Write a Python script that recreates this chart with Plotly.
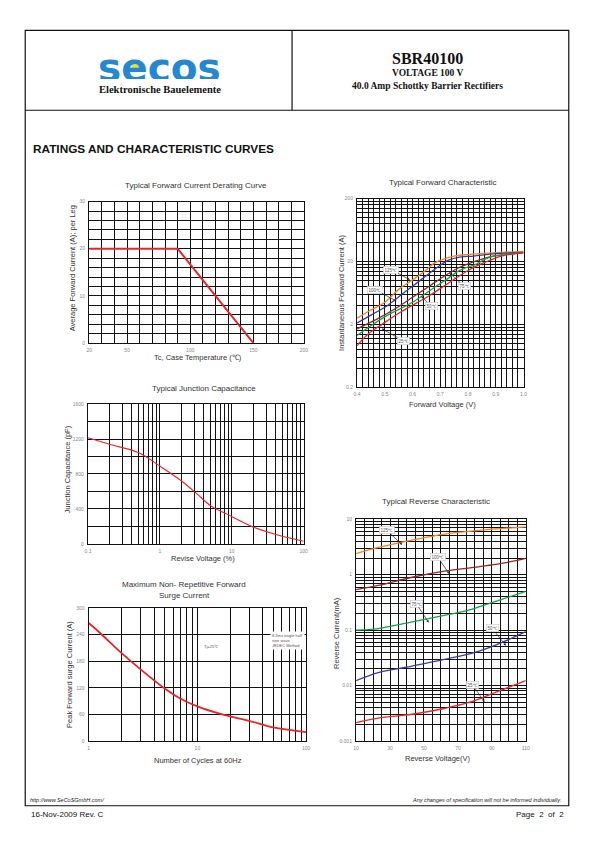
import plotly.graph_objects as go
import math

W, H = 595, 842

# ---------------- data ----------------
derate_tc = [20, 90, 150]
derate_i = [20, 20, 0]
derate_xtick_vals = [20, 50, 100, 150, 190]
derate_xtick_text = ["20", "50", "100", "150", "200"]
derate_ytick_labels = [0, 10, 20, 30]

fwd_v_125 = [0.40, 0.44, 0.50, 0.55, 0.60, 0.64, 0.68, 0.72, 0.75, 0.80, 0.89, 1.00]
fwd_i_125 = [2.5, 3.2, 4.5, 7.2, 10.2, 13.6, 19.0, 22.5, 24.4, 25.8, 27.4, 29.0]
fwd_v_100 = [0.40, 0.45, 0.51, 0.57, 0.63, 0.69, 0.73, 0.77, 0.82, 0.89, 1.00]
fwd_i_100 = [2.1, 2.8, 4.0, 6.4, 10.2, 16.2, 21.0, 23.5, 24.4, 26.4, 28.0]
fwd_v_75 = [0.40, 0.47, 0.54, 0.60, 0.66, 0.72, 0.77, 0.83, 0.89, 1.00]
fwd_i_75 = [1.7, 2.4, 3.6, 5.4, 8.1, 12.1, 16.2, 20.5, 24.4, 27.7]
fwd_v_50 = [0.40, 0.45, 0.51, 0.60, 0.66, 0.72, 0.77, 0.83, 0.88, 1.00]
fwd_i_50 = [1.33, 1.9, 2.8, 4.5, 6.8, 10.2, 14.4, 18.2, 23.5, 27.4]
fwd_v_25 = [0.40, 0.44, 0.49, 0.56, 0.66, 0.73, 0.80, 0.86, 0.92, 1.00]
fwd_i_25 = [0.92, 1.4, 2.0, 3.2, 5.7, 9.1, 14.4, 19.3, 24.4, 27.4]
fwd_ytick_labels = [0.2, 2, 20, 200]

jc_v = [0.1, 0.21, 0.5, 1.0, 2.0, 3.3, 5.1, 8.6, 20, 46, 100]
jc_c = [1215, 1135, 1045, 890, 720, 570, 435, 340, 190, 95, 30]
jc_xtick_labels = [0.1, 1, 10, 100]
jc_ytick_labels = [0, 400, 800, 1200, 1600]

rev_v_125 = [10, 23, 43, 62, 82, 110]
rev_i_125 = [2.4, 3.1, 4.2, 5.4, 6.3, 7.3]
rev_v_100 = [10, 23, 43, 62, 82, 95, 110]
rev_i_100 = [0.54, 0.64, 0.90, 1.16, 1.39, 1.58, 1.97]
rev_v_75 = [10, 23, 43, 62, 76, 91, 110]
rev_i_75 = [0.100, 0.107, 0.141, 0.185, 0.228, 0.32, 0.50]
rev_v_50 = [10, 23, 43, 62, 82, 97, 110]
rev_i_50 = [0.0123, 0.0172, 0.0225, 0.0296, 0.0415, 0.062, 0.094]
rev_v_25 = [10, 23, 43, 62, 76, 91, 110]
rev_i_25 = [0.00214, 0.00259, 0.00304, 0.00386, 0.0049, 0.0073, 0.0123]
rev_xtick_labels = [10, 30, 50, 70, 90, 110]
rev_ytick_labels = ["0.001", "0.01", "0.1", "1", "10"]

surge_n = [1, 1.28, 1.87, 3.16, 5.15, 6.8, 10, 16.9, 30.5, 51.4, 100]
surge_i = [266, 243, 205, 157, 116, 97, 78, 60, 45, 30, 20]
surge_xtick_labels = [1, 10, 100]
surge_ytick_labels = [0, 60, 120, 180, 240, 300]

RED = "#e8242c"
ORANGE = "#f58220"
BLUE = "#3b3b9e"
BROWN = "#8e2b2e"
GREEN = "#16a04a"


def px(x):
    return x / W


def py(y):
    return 1 - y / H


def fmt(v):
    return "%g" % v


# ---------------- figure ----------------
fig = go.Figure()

fig.add_trace(go.Scatter(x=derate_tc, y=derate_i, mode="lines",
                         line=dict(color=RED, width=2), xaxis="x", yaxis="y"))
for vv, ii, c in [(fwd_v_125, fwd_i_125, ORANGE), (fwd_v_100, fwd_i_100, BLUE),
                  (fwd_v_75, fwd_i_75, BROWN), (fwd_v_50, fwd_i_50, GREEN),
                  (fwd_v_25, fwd_i_25, RED)]:
    fig.add_trace(go.Scatter(x=vv, y=ii, mode="lines", line=dict(color=c, width=1.3, shape="spline"),
                             xaxis="x2", yaxis="y2"))
fig.add_trace(go.Scatter(x=jc_v, y=jc_c, mode="lines", line=dict(color=RED, width=1.1, shape="spline"),
                         xaxis="x3", yaxis="y3"))
for vv, ii, c in [(rev_v_125, rev_i_125, ORANGE), (rev_v_100, rev_i_100, BROWN),
                  (rev_v_75, rev_i_75, GREEN), (rev_v_50, rev_i_50, BLUE),
                  (rev_v_25, rev_i_25, RED)]:
    fig.add_trace(go.Scatter(x=vv, y=ii, mode="lines", line=dict(color=c, width=1.3, shape="spline"),
                             xaxis="x4", yaxis="y4"))
fig.add_trace(go.Scatter(x=surge_n, y=surge_i, mode="lines", line=dict(color=RED, width=1.8, shape="spline"),
                         xaxis="x5", yaxis="y5"))


def ax(domain_px, rng, typ, vals, texts, anchor, horizontal):
    if horizontal:
        dom = [px(domain_px[0]), px(domain_px[1])]
    else:
        dom = [py(domain_px[1]), py(domain_px[0])]
    return dict(domain=dom, range=rng, type=typ, tickmode="array", tickvals=vals, ticktext=texts,
                showgrid=True, gridcolor="#111", gridwidth=1, showline=True, linecolor="#111",
                linewidth=1.3, mirror=True, ticks="", zeroline=False, anchor=anchor,
                tickfont=dict(size=5, color="#888", family="Liberation Sans"), fixedrange=True,
                ticklabelstandoff=2)


def log_grid(lo_exp, hi_exp, base=1.0):
    out = []
    for d in range(lo_exp, hi_exp):
        for k in range(1, 10):
            out.append(round(base * k * 10 ** d, 10))
    out.append(round(base * 10 ** hi_exp, 10))
    return out


dx_vals = list(range(20, 191, 10))
dx_text = [derate_xtick_text[derate_xtick_vals.index(v)] if v in derate_xtick_vals else "" for v in dx_vals]
dy_vals = list(range(0, 31, 2))
dy_text = [str(v) if v in derate_ytick_labels else "" for v in dy_vals]

fx_vals = [round(0.4 + 0.02 * i, 2) for i in range(31)]
fx_text = [("%.1f" % v) if abs(v * 10 - round(v * 10)) < 1e-6 else "" for v in fx_vals]
fy_vals = sorted(set(log_grid(-1, 2, 2.0)))
fy_text = [fmt(v) if any(abs(v - t) < 1e-9 for t in fwd_ytick_labels) else "" for v in fy_vals]

jx_vals = log_grid(-1, 2)
jx_text = [fmt(v) if any(abs(v - t) < 1e-9 for t in jc_xtick_labels) else "" for v in jx_vals]
jy_vals = list(range(0, 1601, 200))
jy_text = [str(v) if v in jc_ytick_labels else "" for v in jy_vals]

rx_vals = list(range(10, 111, 5))
rx_text = [str(v) if v in rev_xtick_labels else "" for v in rx_vals]
ry_vals = log_grid(-3, 1)
ry_text = [fmt(v) if fmt(v) in rev_ytick_labels else "" for v in ry_vals]

sx_vals = log_grid(0, 2)
sx_text = [fmt(v) if any(abs(v - t) < 1e-9 for t in surge_xtick_labels) else "" for v in sx_vals]
sy_vals = list(range(0, 301, 60))
sy_text = [str(v) if v in surge_ytick_labels else "" for v in sy_vals]

layout = dict(
    width=W, height=H, margin=dict(l=0, r=0, t=0, b=0), paper_bgcolor="white",
    plot_bgcolor="white", showlegend=False,
    font=dict(family="Liberation Sans", color="#333"),
    xaxis=ax([87.3, 304.5], [20, 190], "linear", dx_vals, dx_text, "y", True),
    yaxis=ax([200, 342.5], [0, 30], "linear", dy_vals, dy_text, "x", False),
    xaxis2=ax([358.3, 526.7], [0.4, 1.0], "linear", fx_vals, fx_text, "y2", True),
    yaxis2=ax([197, 387], [math.log10(0.2), math.log10(200)], "log", fy_vals, fy_text, "x2", False),
    xaxis3=ax([86, 304.3], [-1, 2], "log", jx_vals, jx_text, "y3", True),
    yaxis3=ax([404, 544.7], [0, 1600], "linear", jy_vals, jy_text, "x3", False),
    xaxis4=ax([357.3, 529], [10, 110], "linear", rx_vals, rx_text, "y4", True),
    yaxis4=ax([520, 743.3], [-3, 1], "log", ry_vals, ry_text, "x4", False),
    xaxis5=ax([86.7, 306.7], [0, 2], "log", sx_vals, sx_text, "y5", True),
    yaxis5=ax([609.3, 743.3], [0, 300], "linear", sy_vals, sy_text, "x5", False),
)
fig.update_layout(**layout)

annotations = []


def txt(x, y, s, size=8, color="#333", family="Liberation Sans", angle=0, xanchor="center", bold=False,
        italic=False, align="center", height=None):
    if bold:
        s = "<b>" + s + "</b>"
    if italic:
        s = "<i>" + s + "</i>"
    a = dict(x=px(x), y=py(y), xref="paper", yref="paper", text=s, showarrow=False,
             font=dict(size=size, color=color, family=family), textangle=angle,
             xanchor=xanchor, yanchor="middle", align=align, borderpad=0)
    if height is not None:
        a["height"] = height
        a["valign"] = "middle"
    annotations.append(a)


def lbl(x, y, hx, hy, s, size=4.5):
    annotations.append(dict(x=px(hx), y=py(hy), xref="paper", yref="paper", text=s, showarrow=True,
                            ax=x - hx, ay=y - hy, axref="pixel", ayref="pixel",
                            arrowhead=2, arrowsize=0.7, arrowwidth=0.7, arrowcolor="#222",
                            font=dict(size=size, color="#555", family="Liberation Sans"),
                            bgcolor="white", bordercolor="#bbb", borderwidth=0.5, borderpad=1))


# header
txt(158, 64, "secos", size=39, color="#2387d4", family="DejaVu Sans", bold=True, height=24)
txt(159, 87.5, "Elektronische Bauelemente", size=10.5, color="#111", family="Liberation Serif", bold=True)
txt(430, 55.5, "SBR40100", size=16, color="#111", family="Liberation Serif", bold=True)
txt(430, 70.5, "VOLTAGE 100 V", size=9.5, color="#111", family="Liberation Serif", bold=True)
txt(430, 83.5, "40.0 Amp Schottky Barrier Rectifiers", size=9.5, color="#111", family="Liberation Serif", bold=True)

txt(29, 147, "RATINGS AND CHARACTERISTIC CURVES", size=11.8, color="#111", bold=True, xanchor="left")

txt(195, 184, "Typical Forward Current Derating Curve", size=8, color="#333")
txt(70, 267, "Average Forward Current (A); per Leg", size=7.5, color="#333", angle=-90)
txt(197, 357, "Tc, Case Temperature (\u2103)", size=7.5, color="#333")

txt(445, 181, "Typical Forward Characteristic", size=8, color="#333")
txt(343, 292, "Instantaneous Forward Current (A)", size=7.5, color="#333", angle=-90)
txt(445, 404.5, "Forward Voltage (V)", size=7.5, color="#333")

txt(203, 388.5, "Typical Junction Capacitance", size=8, color="#333")
txt(65.5, 470, "Junction Capacitance (pF)", size=7.5, color="#333", angle=-90)
txt(202, 559, "Revise Voltage (%)", size=7.5, color="#333")

txt(438, 502, "Typical Reverse Characteristic", size=8, color="#333")
txt(337.5, 635, "Reverse Current(mA)", size=7.5, color="#333", angle=-90)
txt(440, 761, "Reverse Voltage(V)", size=7.5, color="#333")

txt(183.5, 585.5, "Maximum Non- Repetitive Forward", size=8, color="#333")
txt(183.5, 597, "Surge Current", size=8, color="#333")
txt(66.5, 676, "Peak Forward surge Current (A)", size=7.5, color="#333", angle=-90)
txt(197, 762.5, "Number of Cycles at 60Hz", size=7.5, color="#333")

annotations.append(dict(x=px(210), y=py(653), xref="paper", yref="paper", text="Tj=25\u2103",
                        showarrow=False, font=dict(size=4, color="#555"), bgcolor="white"))
annotations.append(dict(x=px(270), y=py(652), xref="paper", yref="paper",
                        text="8.3ms single half<br>sine wave<br>JEDEC Method", align="left",
                        xanchor="left", showarrow=False, font=dict(size=4, color="#555"), bgcolor="white"))

lbl(393.3, 268.7, 411.7, 278.7, "125\u2103")
lbl(376.7, 288.7, 398.3, 300.3, "100\u2103")
lbl(466.7, 285.3, 451.7, 272.0, "75\u2103")
lbl(433.3, 305.3, 423.3, 295.3, "50\u2103")
lbl(405.0, 340.3, 383.3, 328.0, "25\u2103")

lbl(388.3, 531.0, 404.0, 545.7, "125\u2103")
lbl(440.0, 558.3, 451.7, 575.0, "100\u2103")
lbl(418.3, 605.0, 430.7, 624.0, "75\u2103")
lbl(495.0, 630.0, 509.0, 647.3, "50\u2103")
lbl(475.0, 686.7, 487.3, 704.0, "25\u2103")

txt(26, 803, "http://www.SeCoSGmbH.com/", size=5.5, color="#222", italic=True, xanchor="left")
txt(566, 803, "Any changes of specification will not be informed individually.", size=5.5, color="#222",
    italic=True, xanchor="right")
txt(27, 817, "16-Nov-2009 Rev. C", size=8, color="#111", xanchor="left")
txt(569, 817, "Page  2  of  2", size=8, color="#111", xanchor="right")

fig.update_layout(annotations=annotations)

shapes = [
    dict(type="rect", xref="paper", yref="paper", x0=px(22.5), x1=px(572.5), y0=py(808.5), y1=py(27.5),
         line=dict(color="#111", width=1.2)),
    dict(type="line", xref="paper", yref="paper", x0=px(22.5), x1=px(572.5), y0=py(108), y1=py(108),
         line=dict(color="#111", width=1.2)),
    dict(type="line", xref="paper", yref="paper", x0=px(292.5), x1=px(292.5), y0=py(27.5), y1=py(108),
         line=dict(color="#111", width=1.2)),
    dict(type="path", xref="paper", yref="paper",
         path="M %f,%f L %f,%f L %f,%f Z" % (px(130), py(66), px(130), py(55.5), px(143), py(66)),
         fillcolor="#f0e020", line=dict(width=0), layer="below"),
]
fig.update_layout(shapes=shapes)

fig.write_html("out.html", config={"displayModeBar": False},
               post_script="document.body.style.margin='0px';document.body.style.overflow='hidden';")
